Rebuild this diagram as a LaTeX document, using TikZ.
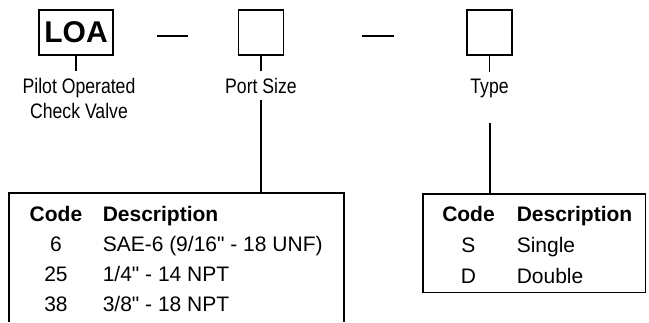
\documentclass[tikz,border=0pt]{standalone}
\usepackage{fontspec}
\setmainfont{Liberation Sans}
\newfontfamily\condfont[FakeStretch=0.84]{Liberation Sans}
\usetikzlibrary{calc}

\tikzset{
  codebox/.style={draw, line width=1.8pt, minimum width=45pt, minimum height=45pt, inner sep=0pt},
  lbl/.style={font=\condfont\fontsize{21}{25}\selectfont, align=center, inner sep=0pt, outer ysep=7pt},
  cell/.style={font=\fontsize{21}{25}\selectfont, inner sep=0pt},
  head/.style={cell, font=\bfseries\fontsize{21}{25}\selectfont},
}

\begin{document}
\begin{tikzpicture}[x=1pt, y=-1pt, line width=1.5pt]
  \useasboundingbox (0,0) rectangle (649,322);

  % code boxes
  \node[codebox, minimum width=74pt, font=\bfseries\fontsize{30}{30}\selectfont] (loa) at (76,32.5) {LOA};
  \node[codebox] (port) at (261,32.5) {};
  \node[codebox] (type) at (489.5,32.5) {};

  % dashes between boxes
  \draw (157,36) -- (188,36);
  \draw (362,36) -- (394,36);

  % labels
  \node[lbl, anchor=base] (pilot) at (79,118) {Pilot Operated\\Check Valve};
  \node[lbl, anchor=base] (portlbl) at (261,93) {Port Size};
  \node[lbl, anchor=base] (typelbl) at (489.5,93) {Type};

  \draw (loa.south) -- (loa.south |- pilot.north);
  \draw (port.south) -- (port.south |- portlbl.north);
  \draw (type.south) -- (type.south |- typelbl.north);

  % port size table (open at the bottom)
  \coordinate (ptl) at (9,193);
  \coordinate (ptr) at (344,193);
  \draw (ptl |- 0,322) -- (ptl) -- (ptr) -- (ptr |- 0,322);
  \draw (portlbl.south) -- (portlbl.south |- ptl);

  \node[head, anchor=base] (pcode) at (56,221) {Code};
  \node[head, anchor=base west] (pdesc) at (102,221) {Description};
  \node[cell, anchor=base] (p6) at (56,251) {6};
  \node[cell, anchor=base west] (p6d) at (102,251) {SAE-6 (9/16\textquotedbl{} - 18 UNF)};
  \node[cell, anchor=base] (p25) at (56,281) {25};
  \node[cell, anchor=base west] (p25d) at (102,281) {1/4\textquotedbl{} - 14 NPT};
  \node[cell, anchor=base] (p38) at (56,311) {38};
  \node[cell, anchor=base west] (p38d) at (102,311) {3/8\textquotedbl{} - 18 NPT};

  % type table
  \node[draw, minimum width=222.5pt, minimum height=98.5pt, inner sep=0pt] (typetab) at (534,243) {};
  \coordinate (tjoin) at (490,123);
  \draw (tjoin) -- (tjoin |- typetab.north);

  \node[head, anchor=base] (tcode) at (468.5,221) {Code};
  \node[head, anchor=base west] (tdesc) at (516,221) {Description};
  \node[cell, anchor=base] (ts) at (468.5,252) {S};
  \node[cell, anchor=base west] (tsd) at (516,252) {Single};
  \node[cell, anchor=base] (td) at (468.5,283) {D};
  \node[cell, anchor=base west] (tdd) at (516,283) {Double};
\end{tikzpicture}
\end{document}
